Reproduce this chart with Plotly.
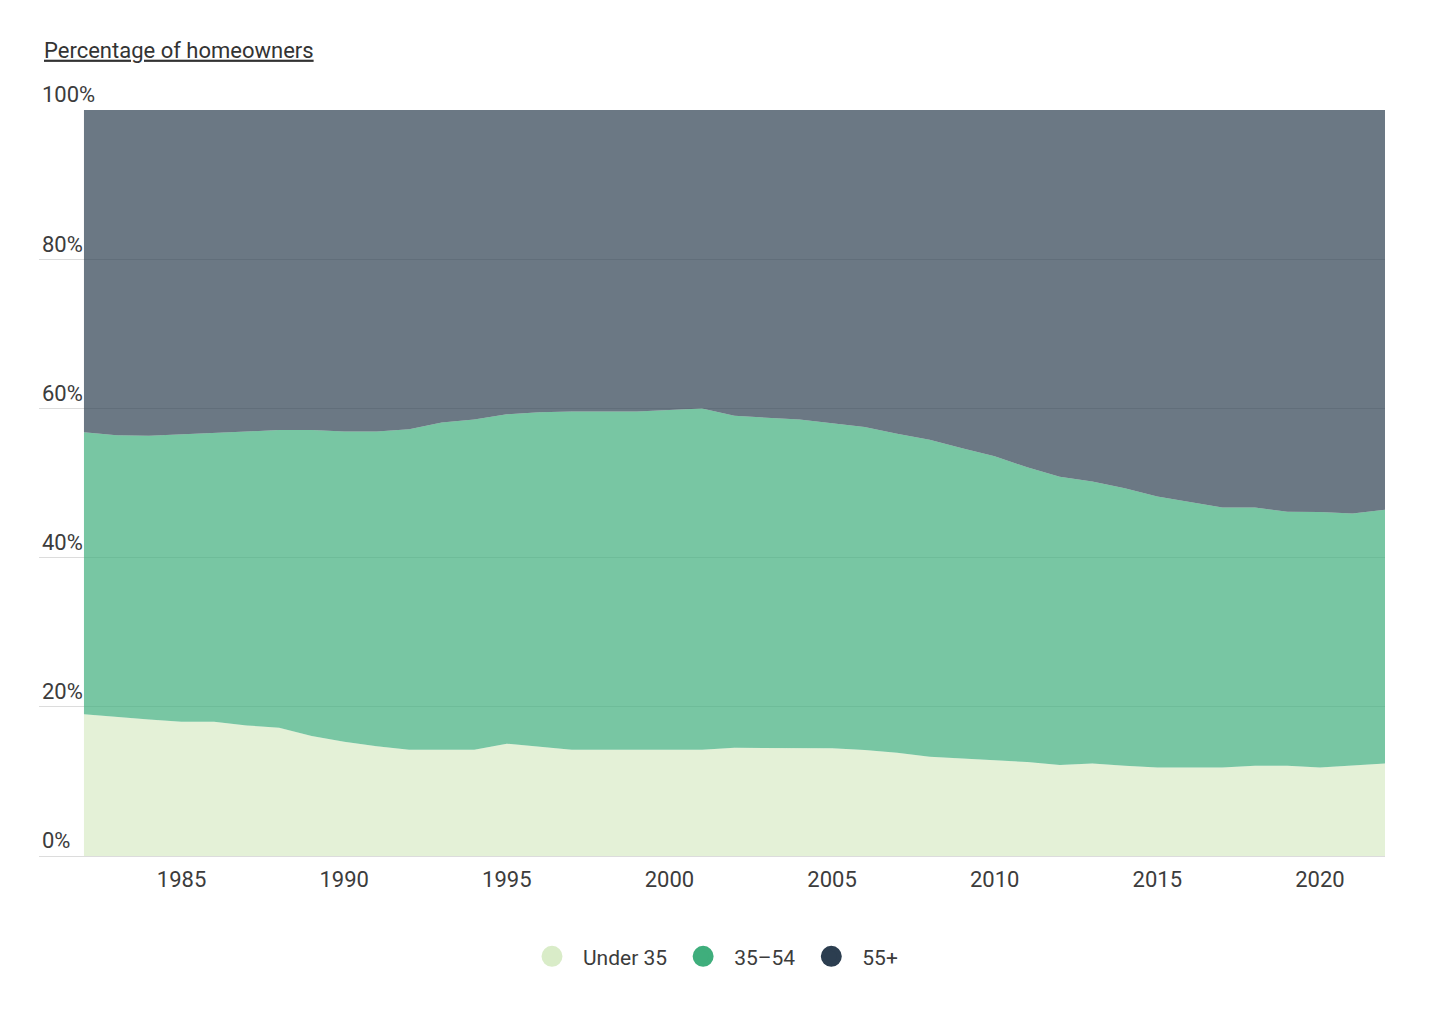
import plotly.graph_objects as go

years = list(range(1982, 2023))

# Share of homeowners under 35 (%)
under35 = [19.0, 18.6, 18.3, 18.0, 18.0, 17.5, 17.2, 16.1, 15.3, 14.7,
           14.25, 14.25, 14.25, 15.05, 14.7, 14.25, 14.25, 14.25, 14.25, 14.25,
           14.5, 14.5, 14.5, 14.45, 14.2, 13.85, 13.3, 13.1, 12.87, 12.6,
           12.2, 12.4, 12.1, 11.85, 11.85, 11.85, 12.1, 12.1, 11.85, 12.1, 12.4]

# Cumulative share of homeowners under 55 (%)
under55 = [56.8, 56.4, 56.35, 56.5, 56.75, 56.9, 57.1, 57.1, 56.9, 56.9,
           57.2, 58.1, 58.5, 59.2, 59.5, 59.6, 59.6, 59.6, 59.8, 60.0,
           59.0, 58.8, 58.5, 58.0, 57.5, 56.6, 55.8, 54.65, 53.6, 52.1,
           50.85, 50.2, 49.3, 48.2, 47.4, 46.7, 46.7, 46.15, 46.1, 45.9, 46.4]

age35_54 = [round(t - u, 2) for t, u in zip(under55, under35)]
age55plus = [round(100 - t, 2) for t in under55]

series_names = ["Under 35", "35–54", "55+"]
series_values = [under35, age35_54, age55plus]
base_colors = ["#d9ecc8", "#3fae7c", "#2c3e50"]
fill_colors = ["rgba(217,236,200,0.72)", "rgba(63,174,124,0.70)", "rgba(44,62,80,0.70)"]

y_ticks = [0, 20, 40, 60, 80, 100]
y_tick_labels = ["0%", "20%", "40%", "60%", "80%", "100%"]
x_ticks = [1985, 1990, 1995, 2000, 2005, 2010, 2015, 2020]

FONT = "Roboto"
TEXT = "#3c3c3c"

fig = go.Figure()

for name, vals, fc in zip(series_names, series_values, fill_colors):
    fig.add_trace(go.Scatter(
        x=years, y=vals, name=name, mode="lines",
        stackgroup="one", line=dict(width=0, color=fc),
        fillcolor=fc, showlegend=False,
        hovertemplate="%{x}: %{y:.1f}%<extra>" + name + "</extra>",
    ))

# legend entries (circle markers)
for name, col in zip(series_names, base_colors):
    fig.add_trace(go.Scatter(
        x=[None], y=[None], name=name, mode="markers",
        marker=dict(symbol="circle", size=30, color=col,
                    line=dict(width=6, color=col)),
        showlegend=True,
    ))

fig.update_layout(
    width=1450, height=1012,
    margin=dict(l=31, r=73, t=102, b=164),
    paper_bgcolor="white", plot_bgcolor="white",
    font=dict(family=FONT, size=21, color=TEXT),
    title=dict(
        text="Percentage of homeowners",
        x=36 / 1450, xanchor="left", xref="container",
        y=1 - 42 / 1012, yanchor="middle", yref="container",
        font=dict(family=FONT, size=22, color="#333333", lineposition="under"),
    ),
    xaxis=dict(
        range=[1982 - 45 / 32.55, 2022],
        tickmode="array", tickvals=x_ticks,
        ticks="", showgrid=False, zeroline=False, showline=False,
        tickfont=dict(family=FONT, size=22, color=TEXT),
        ticklabelstandoff=8,
    ),
    yaxis=dict(
        range=[0, 100],
        tickmode="array", tickvals=y_ticks, ticktext=y_tick_labels,
        ticklabelposition="inside top", ticklabeloverflow="allow",
        showgrid=True, gridcolor="#dcdcdc", gridwidth=1,
        zeroline=True, zerolinecolor="#dcdcdc", zerolinewidth=1,
        showline=False, ticks="",
        tickfont=dict(family=FONT, size=22, color=TEXT),
    ),
    legend=dict(
        orientation="h", x=0.5, xanchor="center",
        y=-0.135, yanchor="middle",
        font=dict(family=FONT, size=21, color=TEXT),
        itemwidth=52, traceorder="normal",
    ),
    showlegend=True,
)

fig.write_html("out.html")
